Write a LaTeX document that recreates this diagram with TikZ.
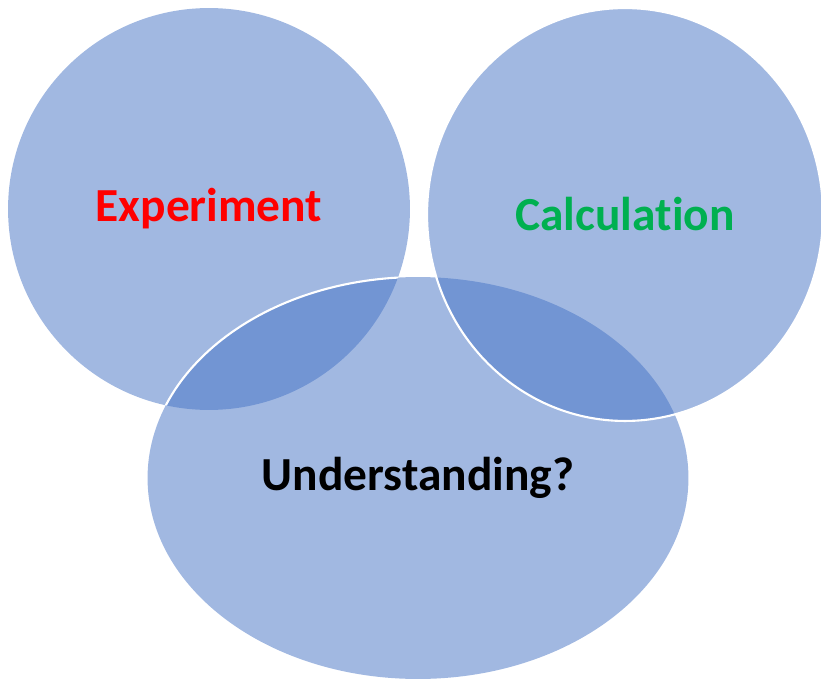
\documentclass[tikz,border=0pt]{standalone}
\usepackage{fontspec}
\setmainfont{Carlito}[Ligatures=NoCommon]
\usetikzlibrary{shapes.geometric}

\definecolor{vennblue}{HTML}{4472C4}
\definecolor{calcgreen}{HTML}{00B050}

\begin{document}
\begin{tikzpicture}[
    x=0.02cm, y=-0.02cm,
    font=\bfseries\fontsize{27}{30}\selectfont,
    vennset/.style={fill=vennblue, fill opacity=0.5, text opacity=1, inner sep=0pt, outer sep=0pt},
    rim/.style={draw=white, line width=1.2pt}
]
    \useasboundingbox (0,0) rectangle (821,679);

    % --- Les trois ensembles ---
    \node[vennset, circle, minimum size=8.04cm, text=red] (experiment) at (209,209) {Experiment};

    \node[vennset, ellipse, minimum width=10.82cm, minimum height=8.04cm] (understanding) at (418,478) {Understanding?};

    % --- Bord blanc de l'ellipse, visible seulement sur le premier cercle ---
    \begin{scope}
        \clip (experiment.center) circle [radius=4.02cm];
        \draw[rim] (understanding.center) ellipse [x radius=5.41cm, y radius=4.02cm];
    \end{scope}

    \node[vennset, rim, ellipse, minimum width=7.92cm, minimum height=8.26cm, text=calcgreen] (calculation) at (625,214.5) {Calculation};

\end{tikzpicture}
\end{document}
